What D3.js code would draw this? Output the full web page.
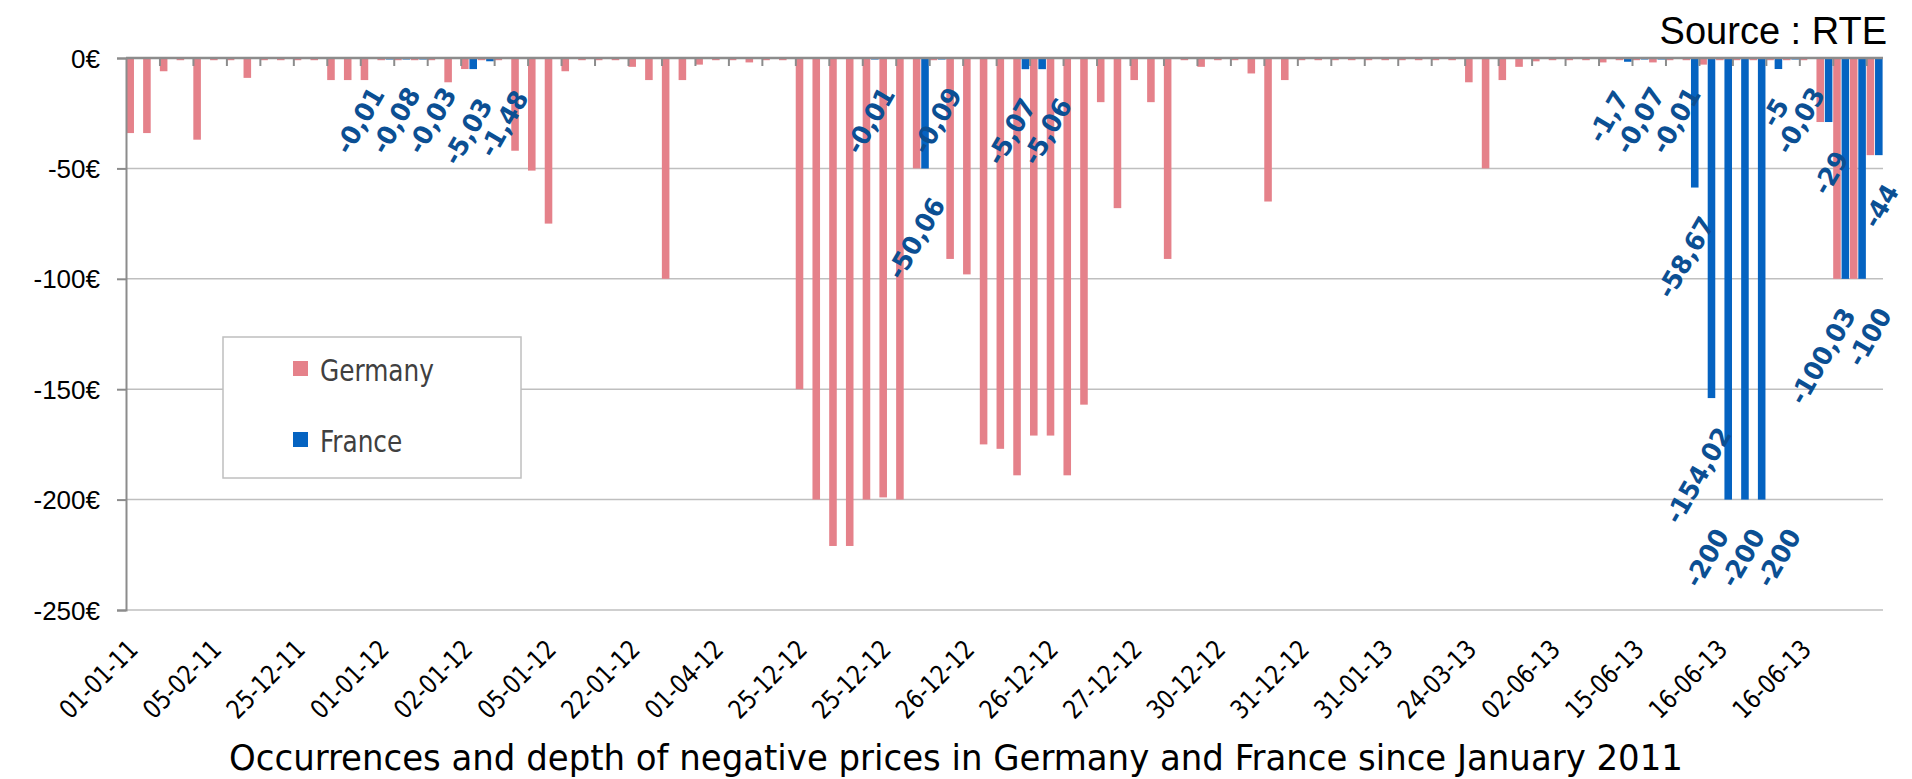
<!DOCTYPE html>
<html><head><meta charset="utf-8">
<script src="https://cdn.jsdelivr.net/npm/d3@7"></script>
<style>body{margin:0;background:#fff}svg{display:block}</style>
</head><body>
<svg id="c" width="1912" height="779"></svg>
<script>
// ---------- DATA ----------
const seriesNames = ["Germany", "France"];
const tickLabels = ["01-01-11","05-02-11","25-12-11","01-01-12","02-01-12","05-01-12","22-01-12","01-04-12","25-12-12","25-12-12","26-12-12","26-12-12","27-12-12","30-12-12","31-12-12","31-01-13","24-03-13","02-06-13","15-06-13","16-06-13","16-06-13"];
const labelEvery = 5;
const germany = [
  -34,-34,-6,-1,-37,-1,-1,-9,-1,-1,
  -1,-1,-10,-10,-10,-1,-1,-1,-1,-11,
  -5,-1,-1,-42,-51,-75,-6,-1,-1,-1,
  -4,-10,-100,-10,-3,-1,-1,-2,-1,-1,
  -150,-200,-221,-221,-200,-199,-200,-50,-1,-91,
  -98,-175,-177,-189,-171,-171,-189,-157,-20,-68,
  -10,-20,-91,-1,-4,-1,-1,-7,-65,-10,
  -1,-1,-1,-1,-1,-1,-1,-1,-1,-1,
  -11,-50,-10,-4,-1.5,-1,-1,-1,-2,-1,
  -1,-2,-1,-1,-3,-1,-1,-1,-1,-1,
  -1,-29,-100,-100,-44
];
const france = [
  null,null,null,null,null,null,null,null,null,null,
  null,null,null,null,null,-0.01,-0.08,-0.03,null,null,
  -5.03,-1.48,null,null,null,null,null,null,null,null,
  null,null,null,null,null,null,null,null,null,null,
  null,null,null,null,-0.01,null,null,-50.06,-0.09,null,
  null,null,null,-5.07,-5.06,null,null,null,null,null,
  null,null,null,null,null,null,null,null,null,null,
  null,null,null,null,null,null,null,null,null,null,
  null,null,null,null,null,null,null,null,null,-1.7,
  -0.07,-0.01,null,-58.67,-154.02,-200,-200,-200,-5,-0.03,
  null,-29,-100.03,-100,-44
];
const yTicks = [0,-50,-100,-150,-200,-250];
const sourceText = "Source : RTE";
const titleText = "Occurrences and depth of negative prices in Germany and France since January 2011";

// ---------- LAYOUT ----------
const L = 126, R = 1883, T = 58, B = 610;
const colors = {Germany: "#e5818a", France: "#0563c1"};
const labelBlue = "#0b4f93";
const FAM = "'DejaVu Sans Condensed','DejaVu Sans',sans-serif";
const ARIAL = "'Liberation Sans',Arial,sans-serif";

const svg = d3.select("#c");

function measure(family, weight, size, sample) {
  const t = svg.append("text").attr("font-family", family).attr("font-weight", weight)
    .attr("font-size", size).style("font-stretch", "condensed").text(sample);
  const w = t.node().getComputedTextLength();
  t.remove();
  return w;
}

const y = d3.scaleLinear().domain([-250, 0]).range([B, T]);
const xBand = d3.scaleBand().domain(d3.range(germany.length)).range([L, R]).padding(0);
const sub = d3.scaleBand().domain(seriesNames).range([0, xBand.bandwidth()]).padding(0);
const xLin = d3.scaleLinear().domain([0, germany.length]).range([L, R]);

// gridlines
svg.append("g").selectAll("line").data(yTicks.filter(v => v !== 0)).join("line")
  .attr("x1", L).attr("x2", R).attr("y1", d => y(d)).attr("y2", d => y(d))
  .attr("stroke", "#bfbfbf").attr("stroke-width", 1.5);

// bars
const rows = [];
germany.forEach((v, i) => { if (v != null) rows.push({s: "Germany", i, v}); });
france.forEach((v, i) => { if (v != null) rows.push({s: "France", i, v}); });
svg.append("g").selectAll("rect").data(rows).join("rect")
  .attr("x", d => xBand(d.i) + sub(d.s) + 0.4)
  .attr("width", sub.bandwidth() - 0.8)
  .attr("y", y(0))
  .attr("height", d => Math.max(y(d.v) - y(0), 1.5))
  .attr("fill", d => colors[d.s]);

// x ticks (every 2 categories) on zero line
const xAxis = d3.axisBottom(xLin)
  .tickValues(d3.range(2, germany.length, 2))
  .tickSize(8).tickFormat("");
const gx = svg.append("g").attr("transform", `translate(0,${y(0)})`).call(xAxis);
gx.select(".domain").remove();
gx.selectAll(".tick line").attr("stroke", "#8c8c8c").attr("stroke-width", 2);
svg.append("line").attr("x1", L).attr("x2", R).attr("y1", y(0)).attr("y2", y(0))
  .attr("stroke", "#8c8c8c").attr("stroke-width", 2.6);

// y axis
const yAxis = d3.axisLeft(y).tickValues(yTicks).tickFormat(d => d + "€").tickSize(9).tickPadding(17);
const gy = svg.append("g").attr("transform", `translate(${L},0)`).call(yAxis);
gy.select(".domain").attr("stroke", "#8c8c8c").attr("stroke-width", 2);
gy.selectAll(".tick line").attr("stroke", "#8c8c8c").attr("stroke-width", 2);
gy.selectAll(".tick text").attr("font-family", ARIAL)
  .attr("font-size", 26).attr("fill", "#000").attr("dy", "0.35em");

// x category labels (font-size for glyph height, horizontal scale for length)
const tickFs = 26;
const tickSx = 98 / measure(FAM, "normal", tickFs, "01-01-11");
svg.append("g").selectAll("text").data(tickLabels).join("text")
  .attr("transform", (d, j) => `translate(${xBand(j * labelEvery) + xBand.bandwidth() / 2 + 5},651) rotate(-45) scale(${tickSx},1)`)
  .attr("text-anchor", "end")
  .attr("font-family", FAM).style("font-stretch", "condensed")
  .attr("font-size", tickFs).attr("fill", "#000")
  .text(d => d);

// France data labels
const labFs = 26;
const labSx = 106 / measure(FAM, "bold", labFs, "-154,02");
const labels = [];
france.forEach((v, i) => {
  if (v == null) return;
  const bx = xBand(i) + sub("France") + sub.bandwidth() / 2;
  labels.push({i, v, text: String(v).replace(".", ","), want: bx + 21, y: y(v) + 36});
});
labels.sort((a, b) => a.want - b.want);
const SP = 36;
let clusters = labels.map(d => ({items: [d], c: d.want, y: d.y}));
let changed = true;
while (changed) {
  changed = false;
  for (let k = 0; k < clusters.length - 1; k++) {
    const a = clusters[k], b = clusters[k + 1];
    const aR = a.c + (a.items.length - 1) / 2 * SP;
    const bL = b.c - (b.items.length - 1) / 2 * SP;
    if (bL - aR < SP && Math.abs(a.y - b.y) < 40) {
      const items = a.items.concat(b.items);
      clusters.splice(k, 2, {items, c: d3.mean(items, d => d.want), y: d3.mean(items, d => d.y)});
      changed = true;
      break;
    }
  }
}
clusters.forEach(cl => cl.items.forEach((d, k) => { d.x = cl.c + (k - (cl.items.length - 1) / 2) * SP; }));
svg.append("g").selectAll("text").data(labels).join("text")
  .attr("transform", d => `translate(${d.x},${d.y}) rotate(-60) scale(${labSx},1)`)
  .attr("text-anchor", "end")
  .attr("font-family", FAM).style("font-stretch", "condensed").attr("font-weight", "bold")
  .attr("font-size", labFs).attr("fill", labelBlue)
  .text(d => d.text);

// legend
const lg = svg.append("g");
lg.append("rect").attr("x", 223).attr("y", 337).attr("width", 298).attr("height", 141)
  .attr("fill", "#fff").attr("stroke", "#bfbfbf").attr("stroke-width", 1.5);
const legFs = 30;
const legSx = 114 / measure(FAM, "normal", legFs, "Germany");
seriesNames.forEach((s, k) => {
  const cy = 369 + k * 71;
  lg.append("rect").attr("x", 293).attr("y", cy - 8).attr("width", 15).attr("height", 15).attr("fill", colors[s]);
  lg.append("text").attr("transform", `translate(320,${cy + 12}) scale(${legSx},1)`)
    .attr("font-family", FAM).style("font-stretch", "condensed")
    .attr("font-size", legFs).attr("fill", "#404040").text(s);
});

// source
svg.append("text").attr("x", 1887).attr("y", 44).attr("text-anchor", "end")
  .attr("font-family", ARIAL).attr("font-size", 38).attr("fill", "#000")
  .text(sourceText);

// title
const tt = svg.append("text").attr("text-anchor", "middle")
  .attr("font-family", FAM).style("font-stretch", "condensed").attr("font-size", 36).attr("fill", "#000")
  .text(titleText);
const tw = tt.node().getComputedTextLength();
tt.attr("transform", `translate(956,770) scale(${1454 / tw},1)`);
</script>
</body></html>
